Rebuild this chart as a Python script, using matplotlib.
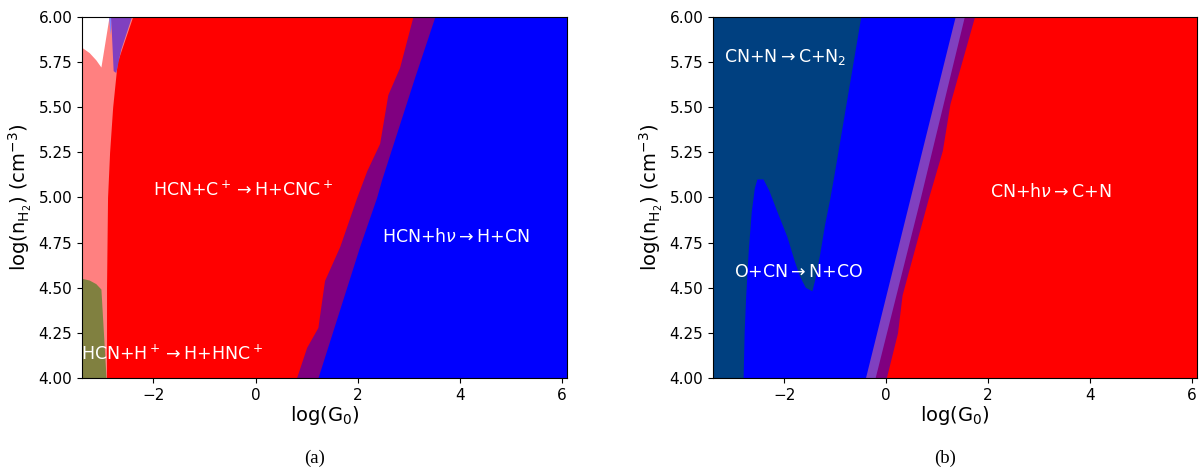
import numpy as np
import matplotlib
matplotlib.use("Agg")
import matplotlib.pyplot as plt
from matplotlib.patches import Polygon

# Parameter ranges
G0_RANGE = (-3.4, 6.1)
NH2_RANGE = (4.0, 6.0)

# ---------------- Panel (a): HCN destruction ----------------
# Left edge of the HCN + C+ domain
a_cplus_left_y = [4.0, 4.5, 5.0, 5.25, 5.5, 5.75, 5.9, 6.0]
a_cplus_left_x = [-2.92, -2.92, -2.90, -2.86, -2.80, -2.71, -2.53, -2.41]

# Red / overlap boundary (HCN + C+ ends)
a_cplus_right_y = [4.0, 4.17, 4.28, 4.54, 4.73, 5.0, 5.15, 5.30, 5.57, 5.72, 6.0]
a_cplus_right_x = [0.80, 1.00, 1.22, 1.35, 1.65, 1.98, 2.18, 2.43, 2.59, 2.82, 3.08]

# Overlap / photodissociation boundary (HCN + hv starts)
a_photo_left_y = [4.0, 4.73, 5.0, 5.10, 5.67, 6.0]
a_photo_left_x = [1.22, 2.04, 2.37, 2.47, 3.12, 3.51]

# HCN + H+ domain (bottom left corner)
a_hplus_x = [-3.4, -3.4, -3.25, -3.12, -3.02, -2.92]
a_hplus_y = [4.0, 4.55, 4.54, 4.52, 4.49, 4.0]

# Unassigned corner (top left)
a_blank_x = [-3.4, -3.4, -3.25, -3.12, -3.02, -2.86]
a_blank_y = [6.0, 5.83, 5.80, 5.76, 5.72, 6.0]

# Small photodissociation wedge near the top left
a_wedge_x = [-2.83, -2.78, -2.73, -2.63, -2.42]
a_wedge_y = [6.0, 5.70, 5.69, 5.82, 6.0]
a_sliver_x = [-2.87, -2.81, -2.84]
a_sliver_y = [6.0, 6.0, 5.90]

# ---------------- Panel (b): CN destruction ----------------
# Edge of the CN + N domain (left side), traced bottom to top
b_n_edge_x = [-2.80, -2.78, -2.75, -2.70, -2.64, -2.58, -2.53, -2.41, -2.30,
              -2.15, -1.94, -1.80, -1.69, -1.58, -1.45, -1.38, -1.30, -1.20,
              -1.10, -1.00, -0.49]
b_n_edge_y = [4.00, 4.25, 4.45, 4.70, 4.92, 5.05, 5.10, 5.10, 5.04,
              4.93, 4.78, 4.65, 4.56, 4.50, 4.48, 4.56, 4.68, 4.85,
              4.99, 5.15, 6.00]

# Bands between O + CN and CN + hv
b_band1_y = [4.0, 5.0, 6.0]
b_band1_x = [-0.41, 0.47, 1.35]
b_band2_y = [4.0, 5.0, 6.0]
b_band2_x = [-0.22, 0.67, 1.53]
b_photo_y = [4.0, 4.25, 4.46, 4.99, 5.26, 5.52, 6.0]
b_photo_x = [0.00, 0.22, 0.31, 0.82, 1.10, 1.25, 1.73]

# Colours
RED = "#ff0000"
BLUE = "#0000ff"
PURPLE = "#800080"
PINK = "#ff8080"
OLIVE = "#808040"
LILAC = "#8040c0"
LIGHTBLUE = "#8080ff"
NAVY = "#004080"

plt.rcParams["font.family"] = "DejaVu Sans"

fig = plt.figure(figsize=(11.99, 4.68), dpi=100)
ax_a = fig.add_axes([0.0684, 0.1923, 0.4045, 0.7714])
ax_b = fig.add_axes([0.5947, 0.1923, 0.4037, 0.7714])

yy = np.linspace(NH2_RANGE[0], NH2_RANGE[1], 400)


def edge(y_pts, x_pts):
    return np.interp(yy, y_pts, x_pts)


x0, x1 = G0_RANGE
TXT = 12.5

# Panel (a)
ax_a.fill_betweenx(yy, x0, x1, color=BLUE, lw=0)
ax_a.fill_betweenx(yy, x0, edge(a_photo_left_y, a_photo_left_x), color=PURPLE, lw=0)
ax_a.fill_betweenx(yy, x0, edge(a_cplus_right_y, a_cplus_right_x), color=RED, lw=0)
ax_a.fill_betweenx(yy, x0, edge(a_cplus_left_y, a_cplus_left_x), color=PINK, lw=0)
ax_a.add_patch(Polygon(np.column_stack([a_blank_x, a_blank_y]), closed=True,
                       facecolor="white", lw=0))
ax_a.add_patch(Polygon(np.column_stack([a_sliver_x, a_sliver_y]), closed=True,
                       facecolor=LIGHTBLUE, lw=0))
ax_a.add_patch(Polygon(np.column_stack([a_wedge_x, a_wedge_y]), closed=True,
                       facecolor=LILAC, lw=0))
ax_a.add_patch(Polygon(np.column_stack([a_hplus_x, a_hplus_y]), closed=True,
                       facecolor=OLIVE, lw=0))

ax_a.text(-0.25, 5.04, r"HCN+C$^+$$\rightarrow$H+CNC$^+$", color="white",
          fontsize=TXT, ha="center", va="center")
ax_a.text(3.92, 4.78, r"HCN+h$\nu\rightarrow$H+CN", color="white",
          fontsize=TXT, ha="center", va="center")
ax_a.text(-3.42, 4.13, r"HCN+H$^+$$\rightarrow$H+HNC$^+$", color="white",
          fontsize=TXT, ha="left", va="center")

# Panel (b)
ax_b.fill_betweenx(yy, x0, x1, color=NAVY, lw=0)
blue_poly = list(zip(b_n_edge_x, b_n_edge_y)) + [(x1, NH2_RANGE[1]), (x1, NH2_RANGE[0])]
ax_b.add_patch(Polygon(blue_poly, closed=True, facecolor=BLUE, lw=0))
ax_b.fill_betweenx(yy, edge(b_band1_y, b_band1_x), x1, color=LILAC, lw=0)
ax_b.fill_betweenx(yy, edge(b_band2_y, b_band2_x), x1, color=PURPLE, lw=0)
ax_b.fill_betweenx(yy, edge(b_photo_y, b_photo_x), x1, color=RED, lw=0)

ax_b.text(-1.98, 5.78, r"CN+N$\rightarrow$C+N$_2$", color="white",
          fontsize=TXT, ha="center", va="center")
ax_b.text(-1.72, 4.59, r"O+CN$\rightarrow$N+CO", color="white",
          fontsize=TXT, ha="center", va="center")
ax_b.text(3.24, 5.03, r"CN+h$\nu\rightarrow$C+N", color="white",
          fontsize=TXT, ha="center", va="center")

for ax in (ax_a, ax_b):
    ax.set_xlim(*G0_RANGE)
    ax.set_ylim(*NH2_RANGE)
    ax.set_xticks([-2, 0, 2, 4, 6])
    ax.set_yticks(np.arange(4.0, 6.01, 0.25))
    ax.yaxis.set_major_formatter(matplotlib.ticker.FormatStrFormatter("%.2f"))
    ax.tick_params(labelsize=11)
    ax.set_xlabel(r"log(G$_0$)", fontsize=14, labelpad=1)
    ax.set_ylabel(r"log(n$_{\mathrm{H_2}}$) (cm$^{-3}$)", fontsize=14, labelpad=3)

fig.text(0.2620, 0.010, "(a)", fontsize=13.5, family="Liberation Serif", ha="center")
fig.text(0.7880, 0.010, "(b)", fontsize=13.5, family="Liberation Serif", ha="center")

fig.savefig("out.png", dpi=100)
